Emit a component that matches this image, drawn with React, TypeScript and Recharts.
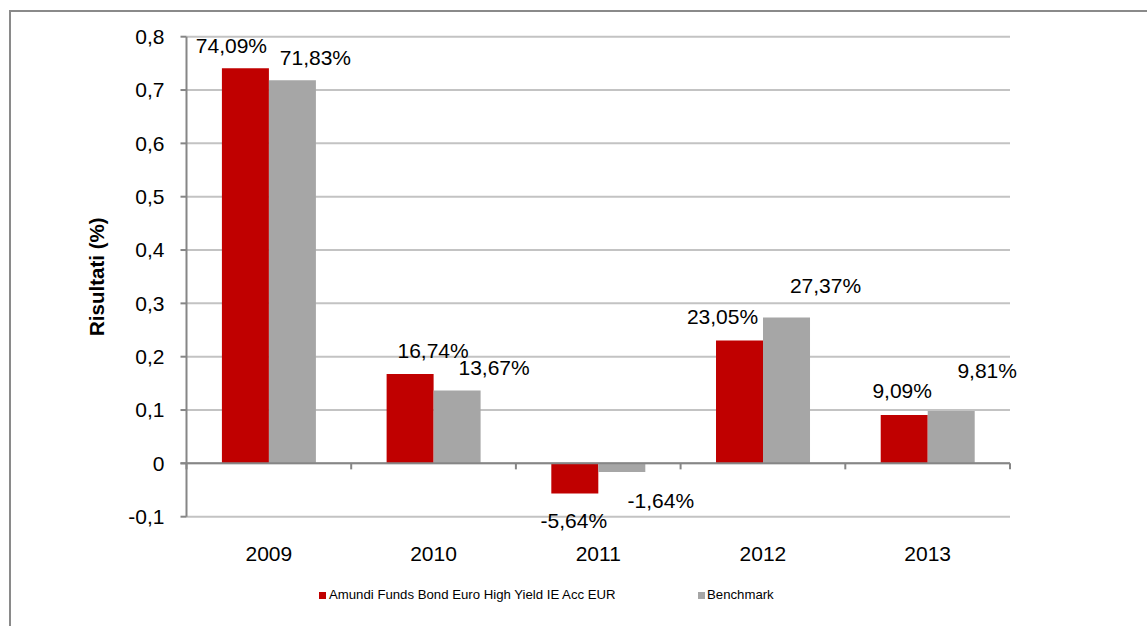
import React from "react";
import {
  BarChart,
  Bar,
  XAxis,
  YAxis,
  CartesianGrid,
  ReferenceLine,
  LabelList,
} from "recharts";

// Annual returns, as fractions
const YEARS = ["2009", "2010", "2011", "2012", "2013"];
const FUND = [0.7409, 0.1674, -0.0564, 0.2305, 0.0909];
const BENCHMARK = [0.7183, 0.1367, -0.0164, 0.2737, 0.0981];
const Y_TICKS = [-0.1, 0, 0.1, 0.2, 0.3, 0.4, 0.5, 0.6, 0.7, 0.8];

const FUND_NAME = "Amundi Funds Bond Euro High Yield IE Acc EUR";
const BENCH_NAME = "Benchmark";

// Excel-style hand-placed label nudges (px from bar centre / end)
const FUND_LABEL_DX = [-14, 23, -1, -17, -2];
const FUND_LABEL_DY = [-23, -24, 27, -24, -24];
const BENCH_LABEL_DX = [23, 37, 39, 39, 36];
const BENCH_LABEL_DY = [-23, -23, 28, -32, -41];

const FONT = '"Liberation Sans", Arial, sans-serif';
const RED = "#c00000";
const GREY = "#a6a6a6";
const AXIS = "#868686";
const GRID = "#c3c3c3";

const data = YEARS.map((year, i) => ({
  year,
  fund: FUND[i],
  bench: BENCHMARK[i],
}));

const pct = (v: number) => (v * 100).toFixed(2).replace(".", ",") + "%";
const tickFmt = (v: number) => (v === 0 ? "0" : String(v).replace(".", ","));

function makeLabel(dxs: number[], dys: number[]) {
  return (props: any) => {
    const { x, y, width, height, value, index } = props;
    const top = Math.min(Number(y), Number(y) + Number(height));
    const bottom = Math.max(Number(y), Number(y) + Number(height));
    const cx = Number(x) + Number(width) / 2 + dxs[index];
    const cy = (Number(value) < 0 ? bottom : top) + dys[index];
    return (
      <text
        x={cx}
        y={cy}
        dy="0.36em"
        textAnchor="middle"
        fontFamily={FONT}
        fontSize={21}
        fill="#000"
      >
        {pct(Number(value))}
      </text>
    );
  };
}

// zero line with small ticks down at each category boundary
function ZeroLine(props: any) {
  const { x1, y1, x2 } = props;
  const n = YEARS.length;
  const step = (x2 - x1) / n;
  const ticks = [];
  for (let i = 0; i <= n; i++) {
    const tx = x1 + step * i;
    ticks.push(
      <line key={i} x1={tx} y1={y1} x2={tx} y2={y1 + 6} stroke={AXIS} strokeWidth={2} />
    );
  }
  return (
    <g>
      <line x1={x1 - 6} y1={y1} x2={x2} y2={y1} stroke={AXIS} strokeWidth={2} />
      {ticks}
    </g>
  );
}

function YTitle(props: any) {
  const { viewBox } = props;
  const cx = 96.5;
  const cy = viewBox.y + viewBox.height / 2;
  return (
    <text
      x={cx}
      y={cy}
      dy="0.36em"
      textAnchor="middle"
      transform={`rotate(-90, ${cx}, ${cy})`}
      fontFamily={FONT}
      fontSize={20.5}
      fontWeight="bold"
      fill="#000"
    >
      Risultati (%)
    </text>
  );
}

export default function App() {
  return (
    <div
      style={{
        position: "absolute",
        left: 0,
        top: 0,
        width: 1147,
        height: 626,
        overflow: "hidden",
        background: "#fff",
        fontFamily: FONT,
      }}
    >
      {/* outer frame, runs off the right/bottom edges like the original */}
      <div
        style={{
          position: "absolute",
          left: 9,
          top: 10,
          width: 1200,
          height: 700,
          border: "2px solid #8a8a8a",
        }}
      />
      <div style={{ position: "absolute", left: 0, top: 0 }}>
        <BarChart
          width={1147}
          height={626}
          data={data}
          margin={{ top: 36.7, right: 137, bottom: 79.3, left: 100 }}
          barCategoryGap="21.5%"
          barGap={0}
        >
          <CartesianGrid horizontal vertical={false} stroke={GRID} strokeWidth={2} />
          <XAxis
            dataKey="year"
            height={30}
            axisLine={false}
            tickLine={false}
            tickSize={0}
            tickMargin={29}
            tick={{ fontFamily: FONT, fontSize: 21, fill: "#000" }}
            interval={0}
          />
          <YAxis
            width={86.5}
            domain={[-0.1, 0.8]}
            ticks={Y_TICKS}
            tickFormatter={tickFmt}
            allowDataOverflow
            axisLine={{ stroke: AXIS, strokeWidth: 2 }}
            tickLine={{ stroke: AXIS, strokeWidth: 2 }}
            tickSize={6}
            tickMargin={16}
            tick={{ fontFamily: FONT, fontSize: 21, fill: "#000" }}
            label={<YTitle />}
          />
          <Bar dataKey="fund" name={FUND_NAME} fill={RED} isAnimationActive={false}>
            <LabelList dataKey="fund" content={makeLabel(FUND_LABEL_DX, FUND_LABEL_DY)} />
          </Bar>
          <Bar dataKey="bench" name={BENCH_NAME} fill={GREY} isAnimationActive={false}>
            <LabelList dataKey="bench" content={makeLabel(BENCH_LABEL_DX, BENCH_LABEL_DY)} />
          </Bar>
          <ReferenceLine y={0} shape={ZeroLine} />
        </BarChart>
      </div>
      {/* legend */}
      <div
        style={{
          position: "absolute",
          left: 319,
          top: 587,
          display: "flex",
          alignItems: "center",
          fontSize: 13.2,
          color: "#000",
          lineHeight: "16px",
        }}
      >
        <span style={{ width: 7, height: 7, background: RED, marginRight: 3, display: "inline-block" }} />
        <span>{FUND_NAME}</span>
      </div>
      <div
        style={{
          position: "absolute",
          left: 698,
          top: 587,
          display: "flex",
          alignItems: "center",
          fontSize: 13.2,
          color: "#000",
          lineHeight: "16px",
        }}
      >
        <span style={{ width: 7, height: 7, background: GREY, marginRight: 2, display: "inline-block" }} />
        <span>{BENCH_NAME}</span>
      </div>
    </div>
  );
}
